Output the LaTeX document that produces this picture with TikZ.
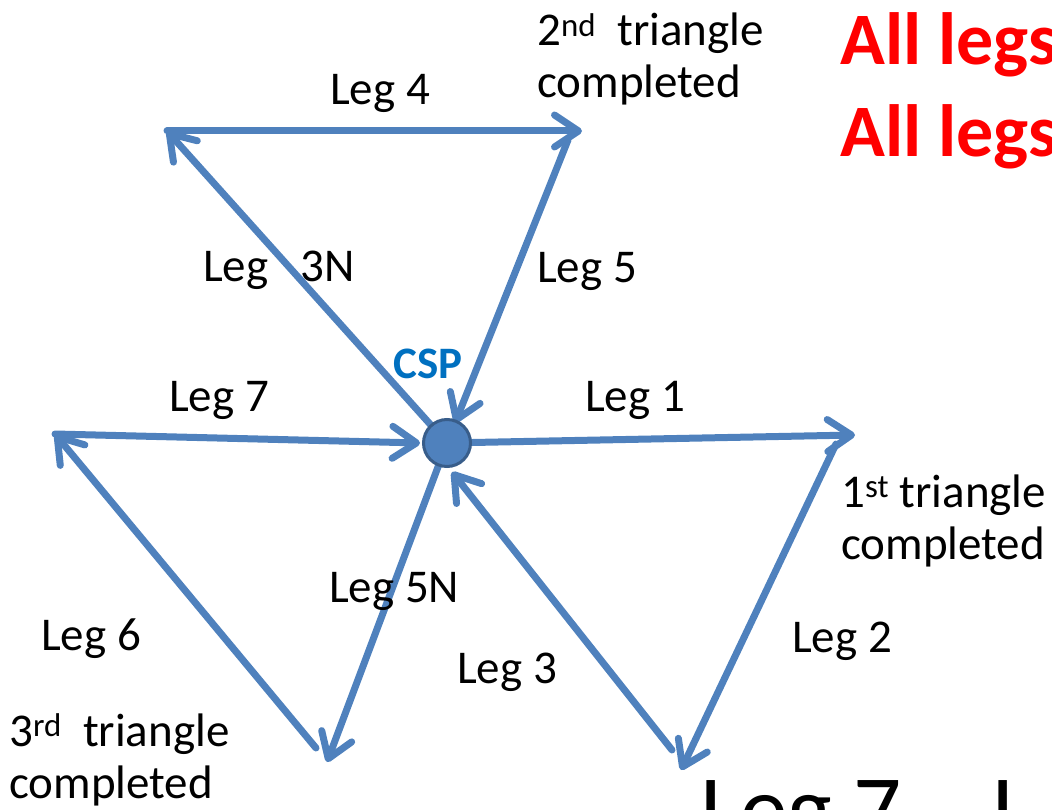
\documentclass[tikz,border=0pt]{standalone}
\usepackage{fontspec}
\setmainfont{Carlito}
\usetikzlibrary{arrows.meta}
\definecolor{legblue}{HTML}{4F81BD}
\definecolor{cspborder}{HTML}{385D8A}
\definecolor{csptext}{HTML}{0070C0}
\pgfdeclarelayer{bg}
\pgfsetlayers{bg,main}
\begin{document}
\begin{tikzpicture}[x=1pt,y=-1pt,
  leg/.style={draw=legblue, line width=7pt, line cap=round,
    -{Straight Barb[length=24pt,width=32pt,round]}},
  lbl/.style={anchor=base west, inner sep=0pt, align=left,
    font=\fontsize{47}{52}\selectfont},
  redtxt/.style={anchor=base west, inner sep=0pt, align=left, text=red,
    font=\fontsize{74}{92}\selectfont\bfseries},
  bigtxt/.style={anchor=base west, inner sep=0pt,
    font=\fontsize{95}{110}\selectfont},
  cspdot/.style={circle, fill=legblue, draw=cspborder, line width=3pt,
    minimum size=47pt, inner sep=0pt}]
\useasboundingbox (0,0) rectangle (1052,810);
\clip (0,0) rectangle (1052,810);

% CSP
\node[cspdot] (csp) at (447,443) {};
\node[anchor=base west, inner sep=0pt, text=csptext,
  font=\fontsize{45}{50}\selectfont\bfseries] (csplbl) at (393,378) {CSP};

% endpoints
\coordinate (t1) at (855,435);
\coordinate (s2) at (836,444);
\coordinate (t2) at (681,770);
\coordinate (s3) at (672,750);
\coordinate (t3) at (452,472);
\coordinate (t3n) at (167,131);
\coordinate (t4) at (582,131);
\coordinate (s5) at (568,140);
\coordinate (t5) at (455,423);
\coordinate (t5n) at (327,762);
\coordinate (s6) at (316,748);
\coordinate (t6) at (55,434);
\coordinate (t7) at (420,443);

\begin{pgfonlayer}{bg}
\draw[leg] (csp.center) -- (t1);
\draw[leg] (s2) -- (t2);
\draw[leg] (s3) -- (t3);
\draw[leg] (csp.center) -- (t3n);
\draw[leg] (t3n) -- (t4);
\draw[leg] (s5) -- (t5);
\draw[leg] (csp.center) -- (t5n);
\draw[leg] (s6) -- (t6);
\draw[leg] (t6) -- (t7);
\end{pgfonlayer}

% labels
\node[lbl] (l4) at (330,105) {Leg 4};
\node[lbl] (l3n) at (203,282) {Leg~~~3N};
\node[lbl] (l5) at (537,283) {Leg 5};
\node[lbl] (l7) at (169,411) {Leg 7};
\node[lbl] (l1) at (585,411) {Leg 1};
\node[lbl] (l5n) at (329,602) {Leg 5N};
\node[lbl] (l3) at (457,683) {Leg 3};
\node[lbl] (l2) at (792,652) {Leg 2};
\node[lbl] (l6) at (41,650) {Leg 6};

\node[lbl] (tri2) at (537,98) {2\textsuperscript{nd}~ triangle\\completed};
\node[lbl] (tri1) at (841,559) {1\textsuperscript{st} triangle\\completed};
\node[lbl] (tri3) at (9,798) {3\textsuperscript{rd}~ triangle\\completed};

\node[redtxt] (all) at (840,157) {All legs\\All legs};
\node[bigtxt] (big) at (700,841) {Leg 7 – L};
\end{tikzpicture}
\end{document}
